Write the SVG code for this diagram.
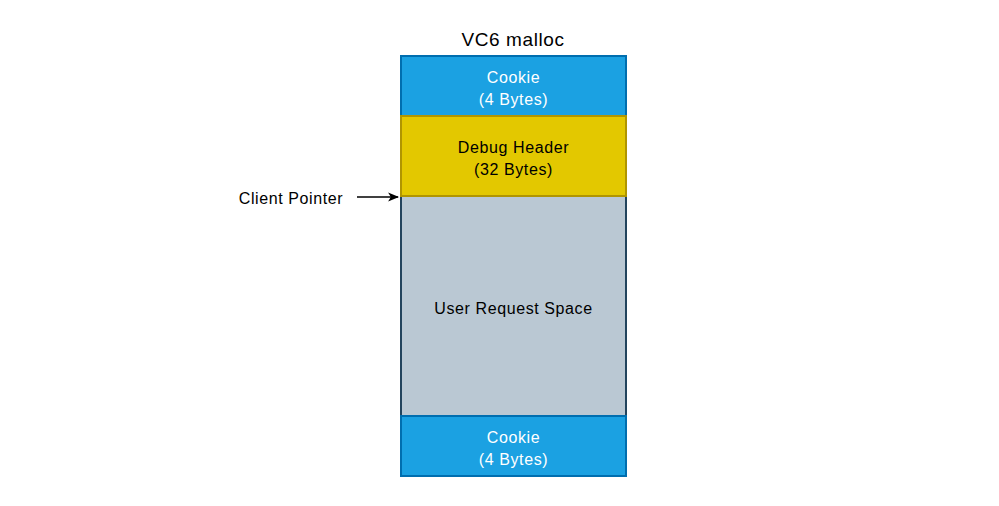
<svg xmlns="http://www.w3.org/2000/svg" width="999" height="506" viewBox="0 0 999 506">
<style>
text{font-family:"Liberation Sans","DejaVu Sans",sans-serif;font-size:16px;letter-spacing:0.6px;text-anchor:middle;dominant-baseline:central}
.cookie rect{fill:#1ba1e2;stroke:#006eaf;stroke-width:2}
.cookie text{fill:#ffffff}
.dbg rect{fill:#e3c800;stroke:#b09500;stroke-width:2}
.user rect{fill:#bac8d3;stroke:#23445d;stroke-width:2}
.dark{fill:#000000}
</style>
<defs>
<marker id="ah" viewBox="0 0 10 10" refX="9" refY="5" markerWidth="11" markerHeight="11" markerUnits="userSpaceOnUse" orient="auto">
<path d="M0,1 L10,5 L0,9 L2.5,5 Z" fill="#000"/>
</marker>
</defs>
<rect width="999" height="506" fill="#ffffff"/>
<g id="title"><text x="513" y="39" class="dark" style="font-size:19px">VC6 malloc</text></g>
<g id="user" class="user"><rect x="401" y="196" width="225" height="220"/><text x="513.5" y="308" class="dark">User Request Space</text></g>
<g id="cookie-top" class="cookie"><rect x="401" y="56" width="225" height="60"/><text x="513.5" y="77">Cookie</text><text x="513.5" y="99">(4 Bytes)</text></g>
<g id="debug-header" class="dbg"><rect x="401" y="116" width="225" height="80"/><text x="513.5" y="147" class="dark">Debug Header</text><text x="513.5" y="169" class="dark">(32 Bytes)</text></g>
<g id="cookie-bottom" class="cookie"><rect x="401" y="416" width="225" height="60"/><text x="513.5" y="437">Cookie</text><text x="513.5" y="459">(4 Bytes)</text></g>
<g id="client-pointer"><text x="291" y="198" class="dark">Client Pointer</text></g>
<g id="connectors"><line x1="357" y1="197" x2="398" y2="197" stroke="#000" stroke-width="1.5" marker-end="url(#ah)"/></g>
</svg>
